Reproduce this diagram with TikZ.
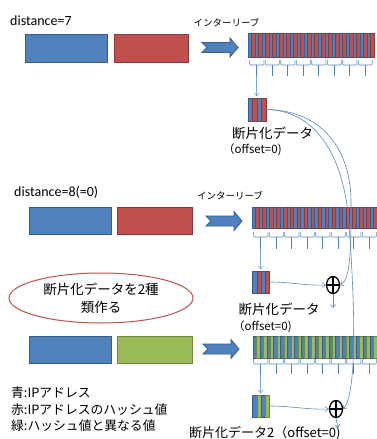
\documentclass[tikz,border=0pt]{standalone}
\usepackage{fontspec}
\setmainfont{Carlito}
\newfontfamily\jp{Noto Sans CJK JP}
\usetikzlibrary{arrows.meta,shapes.geometric}
\definecolor{cblue}{HTML}{4F81BD}
\definecolor{cblueD}{HTML}{385D8A}
\definecolor{cred}{HTML}{C0504D}
\definecolor{credD}{HTML}{8C3836}
\definecolor{cgreen}{HTML}{9BBB59}
\definecolor{cgreenD}{HTML}{71893F}
\definecolor{cline}{HTML}{5A8AC6}
\definecolor{clight}{HTML}{7FA6D8}

\newcommand\stripeset[7]{%
  \foreach \i in {1,...,#3}{%
    \pgfmathsetmacro\xa{#1+(2*\i-2)*#4}%
    \pgfmathsetmacro\xb{#1+(2*\i-1)*#4}%
    \filldraw[fill=#6,draw=#6D,line width=0.35pt] (\xa,#2) rectangle ++(#4,#5);%
    \filldraw[fill=#7,draw=#7D,line width=0.35pt] (\xb,#2) rectangle ++(#4,#5);%
  }}

\newcommand\bracketrow[4]{%
  \foreach \i in {0,...,7}{%
    \pgfmathsetmacro\xa{#1+\i*#3+0.7}%
    \pgfmathsetmacro\xb{#1+(\i+1)*#3-0.7}%
    \pgfmathsetmacro\xm{#1+(\i+0.5)*#3}%
    \draw[cline,line width=0.6pt,rounded corners=0.8pt] (\xa,#2) -- (\xa,#2+5) -- (\xb,#2+5) -- (\xb,#2);%
    \draw[cblue,line width=1.3pt] (\xm,#2+5) -- (\xm,#4);%
  }}

\newcommand\blockarrow[2]{%
  \filldraw[fill=cblue,draw=cblueD,line width=0.8pt] (#1,#2-5) -- (#1+28,#2-5) -- (#1+28,#2-9.5) -- (#1+36,#2) -- (#1+28,#2+9.5) -- (#1+28,#2+5) -- (#1,#2+5) -- (#1+5,#2) -- cycle;}

\begin{document}
\begin{tikzpicture}[x=1pt,y=-1pt,
  box/.style={line width=0.9pt,inner sep=0,outer sep=0,anchor=north west},
  anchorbox/.style={inner sep=0,outer sep=0,anchor=north west},
  jpsmall/.style={font=\jp\fontsize{9.5}{11}\selectfont,inner sep=0},
  jpmid/.style={font=\jp\fontsize{13.5}{16}\selectfont,inner sep=0},
  jpoff/.style={font=\jp\fontsize{11.5}{14}\selectfont,inner sep=0},
  jpleg/.style={font=\jp\fontsize{12.8}{15}\selectfont,inner sep=0,anchor=west},
  latin/.style={font=\fontsize{14}{16}\selectfont,inner sep=0,anchor=west},
  oplus/.style={ellipse,draw=black,line width=1.3pt,minimum width=13pt,minimum height=17pt,inner sep=0,
    path picture={\draw[black,line width=1.3pt] (path picture bounding box.north) -- (path picture bounding box.south)
      (path picture bounding box.west) -- (path picture bounding box.east);}},
  conn/.style={cline,line width=0.6pt,-{Straight Barb[length=3pt,width=5pt]}},
  small/.style={clight,line width=0.6pt,-{Straight Barb[length=3pt,width=5pt]},shorten >=1.5pt}]
\fill[white] (0,0) rectangle (377,439);
\useasboundingbox (0,0) rectangle (377,439);

% ---------- section 1 ----------
\node[latin] (d1) at (10,21) {distance=7};
\node[box,draw=cblueD,fill=cblue,minimum width=82pt,minimum height=28pt] (b1) at (25,34) {};
\node[box,draw=credD,fill=cred,minimum width=74pt,minimum height=28pt] (r1) at (114,34) {};
\blockarrow{202}{47.5}
\node[jpsmall] (il1) at (226.5,23) {インターリーブ};
\stripeset{248}{33}{18}{3.5}{24}{cblue}{cred}
\node[anchorbox,minimum width=126pt,minimum height=24pt] (bar1) at (248,33) {};
\bracketrow{249}{60}{15.5}{76}
\stripeset{248}{98}{2}{4.5}{23}{cblue}{cred}
\node[anchorbox,minimum width=18pt,minimum height=23pt] (f1) at (248,98) {};
\coordinate (t1) at (256.75,76);
\draw[small] (t1) -- (t1 |- f1.north);
\node[jpmid] (n1) at (272.5,133) {断片化データ};
\node[jpoff,anchor=west] (o1) at (223,150) {（offset=0)};

% ---------- section 2 ----------
\node[latin] (d2) at (14,192) {distance=8(=0)};
\node[box,draw=cblueD,fill=cblue,minimum width=82pt,minimum height=27pt] (b2) at (29,207) {};
\node[box,draw=credD,fill=cred,minimum width=75pt,minimum height=27pt] (r2) at (117,207) {};
\blockarrow{206}{221}
\node[jpsmall] (il2) at (230,196) {インターリーブ};
\stripeset{252}{207}{18}{3.47}{21}{cblue}{cred}
\node[anchorbox,minimum width=125pt,minimum height=21pt] (bar2) at (252,207) {};
\bracketrow{253}{232}{15.5}{249}
\stripeset{252.5}{271}{2}{4.25}{22}{cblue}{cred}
\node[anchorbox,minimum width=17pt,minimum height=22pt] (f2) at (252.5,271) {};
\coordinate (t2) at (260.75,249);
\draw[small] (t2) -- (t2 |- f2.north);
\node[oplus] (x2) at (333,285) {};
\coordinate (e2) at (333,308);
\node[jpmid] (n2) at (279,309) {断片化データ};
\node[jpoff,anchor=west] (o2) at (233,327) {（offset=0)};
\node[ellipse,draw=cred,line width=1pt,minimum width=184pt,minimum height=50pt,align=center,
  font=\jp\fontsize{13.5}{18}\selectfont,inner sep=0] (el) at (101,298) {断片化データを2種\\類作る};

% ---------- section 3 ----------
\node[box,draw=cblueD,fill=cblue,minimum width=82pt,minimum height=27pt] (b3) at (29,336) {};
\node[box,draw=cgreenD,fill=cgreen,minimum width=75pt,minimum height=27pt] (g3) at (117,336) {};
\blockarrow{203}{349}
\stripeset{253}{336}{18}{3.44}{22}{cblue}{cgreen}
\node[anchorbox,minimum width=124pt,minimum height=22pt] (bar3) at (253,336) {};
\bracketrow{253}{359}{15.5}{374}
\stripeset{252.5}{395}{2}{4.25}{22}{cblue}{cgreen}
\node[anchorbox,minimum width=17pt,minimum height=22pt] (f3) at (252.5,395) {};
\coordinate (t3) at (260.75,374);
\draw[small] (t3) -- (t3 |- f3.north);
\node[oplus] (x3) at (336,409) {};
\coordinate (e3) at (338,428);
\node[jpmid,font=\jp\fontsize{13}{15}\selectfont,anchor=west] (n3) at (189,433) {断片化データ2（offset=0)};

% legend
\node[jpleg] (l1) at (11,393) {青:IPアドレス};
\node[jpleg] (l2) at (11,410) {赤:IPアドレスのハッシュ値};
\node[jpleg] (l3) at (11,426) {緑:ハッシュ値と異なる値};

% ---------- connectors ----------
\draw[conn] (f2.east) to[out=0,in=182] (x2.west);
\draw[conn] (f3.east) to[out=0,in=182] (x3.west);
\draw[conn] (x2.south) -- (e2);
\draw[conn] (x3.south) -- (e3);
\draw[conn] (f1.east) .. controls (322,110) and (352,150) .. (351,205) .. controls (351,255) and (350,280) .. (x2.east);
\draw[conn] (f1.east) .. controls (312,110) and (344,150) .. (349,225) .. controls (356,320) and (356,395) .. (x3.east);
\end{tikzpicture}
\end{document}
